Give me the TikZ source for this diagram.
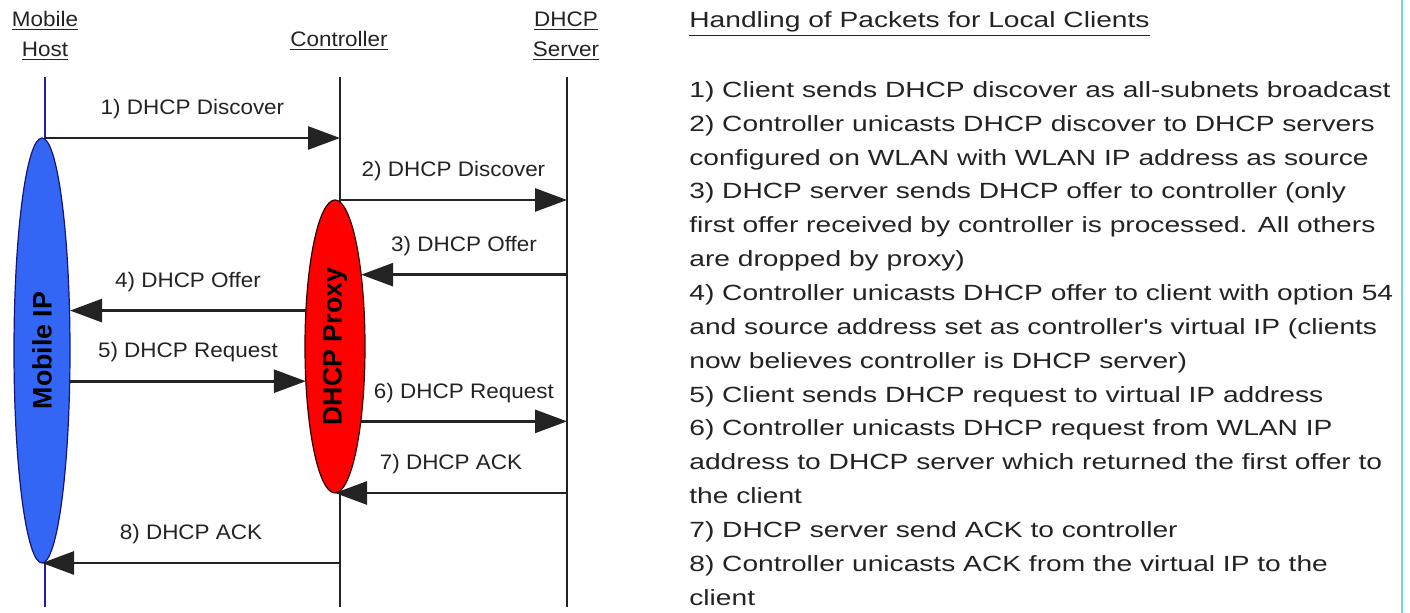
\documentclass[tikz,border=0pt]{standalone}
\usepackage{fontspec}
\setmainfont{Liberation Sans}
\newfontfamily\bodyfont[FakeStretch=1.28]{Liberation Sans}
\newfontfamily\lblfont[FakeStretch=1.07]{Liberation Sans}
\usepackage{graphicx}
\usetikzlibrary{arrows.meta,shapes.geometric}
\definecolor{hostblue}{RGB}{51,102,245}
\definecolor{hostline}{RGB}{30,30,170}
\definecolor{proxyred}{RGB}{255,0,0}
\definecolor{inkgray}{RGB}{35,35,35}
\definecolor{edgecyan}{RGB}{110,215,215}

\begin{document}
\begin{tikzpicture}[x=0.5pt,y=-0.5pt,
    msg/.style={line width=1.4pt,draw=inkgray,-{Triangle[length=16pt,width=11.5pt]}},
    lbl/.style={midway,above=8.8pt,inner sep=0pt,text=inkgray,font=\lblfont\fontsize{10.5}{12}\selectfont},
    head/.style={align=center,inner sep=0pt,text=inkgray,font=\lblfont\fontsize{10.5}{15}\selectfont},
    life/.style={line width=1pt,draw=inkgray}]
    \useasboundingbox (0,0) rectangle (1410,613);
    % headers
    \node[head] (mh) at (45,36) {\underline{Mobile}\\\underline{Host}};
    \node[head] (ctl) at (339,41) {\underline{Controller}};
    \node[head] (srv) at (566,36) {\underline{DHCP}\\\underline{Server}};
    % lifelines
    \coordinate (mhtop) at (45,77);
    \coordinate (mhbot) at (45,607);
    \coordinate (ctltop) at (340,77);
    \coordinate (ctlbot) at (340,607);
    \coordinate (srvtop) at (567,77);
    \coordinate (srvbot) at (567,607);
    \draw[life,draw=hostline] (mhtop) -- (mhbot);
    \draw[life] (ctltop) -- (ctlbot);
    \draw[life] (srvtop) -- (srvbot);
    % the two ellipses
    \node[ellipse,draw=hostline!70!black,line width=0.6pt,fill=hostblue,minimum width=28pt,minimum height=212.5pt,inner sep=0pt,outer sep=0pt] (mip) at (42,350.5) {\rotatebox{90}{\fontsize{13.4}{15}\selectfont\bfseries Mobile IP}};
    \node[ellipse,draw=black!80!red,line width=0.6pt,fill=proxyred,minimum width=30pt,minimum height=146.5pt,inner sep=0pt,outer sep=0pt] (proxy) at (335,346.5) {\rotatebox{90}{\fontsize{13.4}{15}\selectfont\bfseries DHCP Proxy}};
    % messages
    \draw[msg] (mhtop |- mip.north) -- (ctltop |- mip.north) node[lbl] {1) DHCP Discover};
    \draw[msg] (ctltop |- proxy.north) -- (srvtop |- proxy.north) node[lbl] {2) DHCP Discover};
    \draw[msg] (srvtop |- proxy.70.88) -- (proxy.70.88) node[lbl] {3) DHCP Offer};
    \draw[msg] (proxy.129.34) -- (proxy.129.34 -| mip.east) node[lbl] {4) DHCP Offer};
    \draw[msg] (proxy.230.66 -| mip.east) -- (proxy.230.66) node[lbl] {5) DHCP Request};
    \draw[msg] (proxy.-71.81) -- (proxy.-71.81 -| srvtop) node[lbl] {6) DHCP Request};
    \draw[msg] (srvtop |- proxy.south) -- (proxy.south) node[lbl] {7) DHCP ACK};
    \draw[msg] (ctltop |- mip.south) -- (mip.south) node[lbl] {8) DHCP ACK};
    % explanation on the right
    \node[anchor=base west,inner sep=0pt,text=inkgray,font=\bodyfont\fontsize{11}{13}\selectfont] (title) at (689,28) {\underline{Handling of Packets for Local Clients}};
    \node[anchor=north west,inner sep=0pt,align=left,text=inkgray,font=\bodyfont\fontsize{11}{16.93}\selectfont] (steps) at (689,81) {1) Client sends DHCP discover as all-subnets broadcast\\
        2) Controller unicasts DHCP discover to DHCP servers\\
        configured on WLAN with WLAN IP address as source\\
        3) DHCP server sends DHCP offer to controller (only\\
        first offer received by controller is processed. All others\\
        are dropped by proxy)\\
        4) Controller unicasts DHCP offer to client with option 54\\
        and source address set as controller's virtual IP (clients\\
        now believes controller is DHCP server)\\
        5) Client sends DHCP request to virtual IP address\\
        6) Controller unicasts DHCP request from WLAN IP\\
        address to DHCP server which returned the first offer to\\
        the client\\
        7) DHCP server send ACK to controller\\
        8) Controller unicasts ACK from the virtual IP to the\\
        client};
    \draw[edgecyan,line width=1.2pt] (1402,0) -- (1402,613);
\end{tikzpicture}
\end{document}
